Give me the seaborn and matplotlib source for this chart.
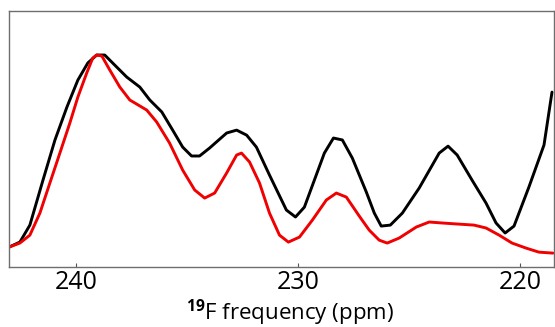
import matplotlib
matplotlib.use("Agg")
import matplotlib.pyplot as plt
import seaborn as sns

# 19F spectrum, black trace (ppm, normalised intensity)
black_ppm = [243.01, 242.52, 242.07, 241.48, 240.94, 240.40, 239.91, 239.46, 239.06,
             238.70, 238.25, 237.71, 237.12, 236.67, 236.13, 235.64, 235.19, 234.79,
             234.43, 233.98, 233.21, 232.76, 232.31, 231.87, 231.28, 230.52, 230.11,
             229.71, 228.81, 228.40, 228.00, 227.55, 226.92, 226.56, 226.25, 225.84,
             225.30, 224.54, 223.64, 223.24, 222.83, 222.16, 221.53, 221.08, 220.67,
             220.27, 219.60, 218.92, 218.56]
black_int = [0.005, 0.031, 0.119, 0.352, 0.560, 0.731, 0.870, 0.959, 1.000,
             1.000, 0.948, 0.886, 0.834, 0.767, 0.705, 0.611, 0.523, 0.477,
             0.477, 0.518, 0.596, 0.611, 0.585, 0.523, 0.378, 0.197, 0.161,
             0.212, 0.492, 0.570, 0.560, 0.466, 0.290, 0.181, 0.114, 0.119,
             0.181, 0.311, 0.492, 0.528, 0.482, 0.352, 0.233, 0.130, 0.078,
             0.114, 0.316, 0.534, 0.808]

# 19F spectrum, red trace
red_ppm = [243.01, 242.52, 242.07, 241.62, 241.17, 240.72, 240.27, 239.91, 239.51,
           239.24, 239.06, 238.83, 238.47, 238.02, 237.57, 236.81, 236.36, 235.78,
           235.19, 234.65, 234.20, 233.75, 233.21, 232.76, 232.54, 232.18, 231.73,
           231.28, 230.83, 230.43, 229.93, 229.35, 228.72, 228.27, 227.82, 227.24,
           226.79, 226.34, 225.98, 225.44, 224.67, 224.09, 223.51, 222.74, 222.07,
           221.53, 220.94, 220.36, 219.73, 219.15, 218.52]
red_int = [0.005, 0.026, 0.067, 0.181, 0.337, 0.492, 0.648, 0.782, 0.907,
           0.984, 1.000, 0.995, 0.922, 0.834, 0.767, 0.715, 0.653, 0.544,
           0.404, 0.301, 0.259, 0.285, 0.389, 0.482, 0.492, 0.446, 0.337,
           0.181, 0.067, 0.031, 0.057, 0.145, 0.249, 0.285, 0.264, 0.166,
           0.093, 0.041, 0.026, 0.052, 0.109, 0.135, 0.130, 0.124, 0.119,
           0.104, 0.067, 0.026, 0.000, -0.021, -0.026]

x_ticks = [240, 230, 220]

sns.set_style("white")
plt.rcParams["font.family"] = ["Open Sans", "DejaVu Sans"]
plt.rcParams["mathtext.fontset"] = "custom"
plt.rcParams["mathtext.rm"] = "Open Sans"
plt.rcParams["mathtext.bf"] = "Open Sans:bold"
plt.rcParams["text.color"] = "black"
plt.rcParams["xtick.color"] = "black"
plt.rcParams["axes.labelcolor"] = "black"

fig = plt.figure(figsize=(5.55, 3.27), dpi=100)
ax = fig.add_axes([9 / 555, 60 / 327, 545 / 555, 256 / 327])

sns.lineplot(x=black_ppm, y=black_int, color="black", lw=2.1, ax=ax,
             estimator=None, sort=False)
sns.lineplot(x=red_ppm, y=red_int, color="#f00000", lw=2.1, ax=ax,
             estimator=None, sort=False)
for line in ax.lines:
    line.set_solid_joinstyle("round")
    line.set_solid_capstyle("round")

ax.set_xlim(243.01, 218.47)
ax.set_ylim(-0.098, 1.228)
ax.set_xticks(x_ticks)
ax.set_xticklabels([str(t) for t in x_ticks])
ax.set_yticks([])
ax.tick_params(axis="x", direction="in", length=3, width=0.8, color="#555555",
               labelcolor="black", labelsize=18, pad=2, bottom=True)
for sp in ax.spines.values():
    sp.set_color("#6e6e6e")
    sp.set_linewidth(1.0)

ax.set_xlabel(r"$\mathbf{^{19}}$F frequency (ppm)", fontsize=16, color="black")
ax.xaxis.set_label_coords(0.515, -0.117, transform=ax.transAxes)
ax.xaxis.label.set_verticalalignment("top")

fig.savefig("out.png", dpi=100)
